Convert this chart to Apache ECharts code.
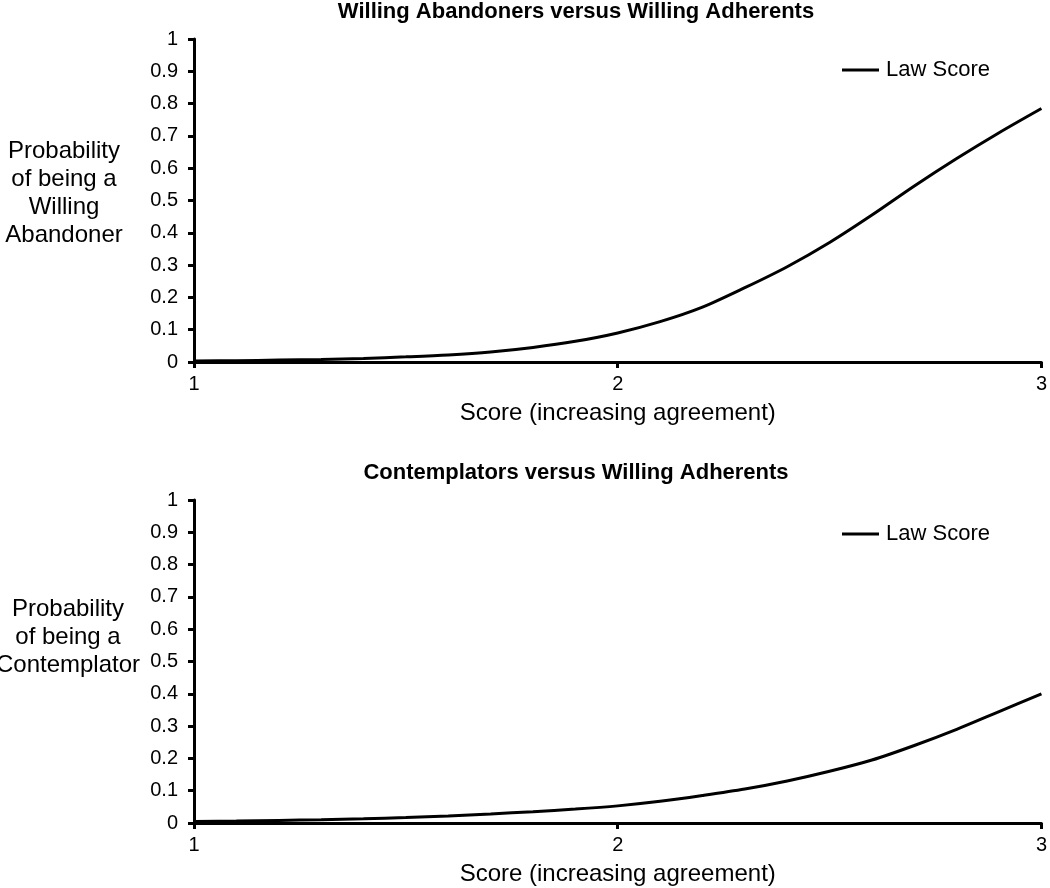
<!DOCTYPE html>
<html>
<head>
<meta charset="utf-8">
<script src="https://cdn.jsdelivr.net/npm/echarts@6/dist/echarts.min.js"></script>
<style>
html,body{margin:0;padding:0;background:#fff;}
#chart{width:1050px;height:888px;}
</style>
</head>
<body>
<div id="chart"></div>
<script>
// Data
const scores = [1.0,1.1,1.2,1.3,1.4,1.5,1.6,1.7,1.8,1.9,2.0,2.1,2.2,2.3,2.4,2.5,2.6,2.7,2.8,2.9,3.0];
const abandonerProb = [0.003,0.004,0.006,0.008,0.011,0.016,0.022,0.031,0.045,0.064,0.09,0.125,0.17,0.23,0.295,0.37,0.455,0.545,0.63,0.71,0.785];
const contemplatorProb = [0.005,0.006,0.008,0.010,0.013,0.017,0.022,0.028,0.035,0.043,0.053,0.067,0.085,0.105,0.13,0.16,0.195,0.24,0.29,0.345,0.40];
const titles = ['Willing Abandoners versus Willing Adherents','Contemplators versus Willing Adherents'];
const yNames = ['Probability\nof being a\nWilling\nAbandoner','Probability\nof being a\nContemplator'];
const xName = 'Score (increasing agreement)';
const seriesName = 'Law Score';

const FONT = '"Liberation Sans", Arial, sans-serif';
const chart = echarts.init(document.getElementById('chart'), null, {renderer:'canvas'});

const gridTops = [39, 500];
const toPairs = (ys) => scores.map((x,i)=>[x, ys[i]]);
const datasets = [abandonerProb, contemplatorProb];

const axisLine = {show:true, lineStyle:{color:'#000', width:3}};
const axisTick = {show:true, length:6, lineStyle:{color:'#000', width:3}};

const option = {
  backgroundColor:'#fff',
  animation:false,
  title: titles.map((t,i)=>({
    text:t, left:571, textAlign:'center', top: i===0 ? -4 : 457,
    textStyle:{fontFamily:FONT, fontWeight:'bold', fontSize:22, color:'#000'}
  })),
  legend: [0,1].map(i=>({
    data:[{name:seriesName, icon:'path://M0,0L40,0L40,3L0,3Z'}],
    left:842, top: gridTops[i] + (i===0?28:31) - 8, padding:0,
    itemWidth:37, itemHeight:3, itemGap:0,
    textStyle:{fontFamily:FONT, fontSize:22, color:'#000', padding:[0,0,0,2]},
    selectedMode:false
  })),
  grid: gridTops.map(t=>({left:194, top:t, width:852, height:323})),
  xAxis: [0,1].map(i=>({
    type:'value', gridIndex:i, min:1, max:3, interval:1,
    axisLine, axisTick, splitLine:{show:false},
    axisLabel:{fontFamily:FONT, fontSize:20, color:'#000', margin:12},
    name:xName, nameLocation:'middle', nameGap:39,
    nameTextStyle:{fontFamily:FONT, fontSize:24, color:'#000'}
  })),
  yAxis: [0,1].map(i=>({
    type:'value', gridIndex:i, min:0, max:1, interval:0.1,
    axisLine, axisTick, splitLine:{show:false},
    axisLabel:{fontFamily:FONT, fontSize:20, color:'#000', margin:16}
  })),
  graphic: yNames.map((t,i)=>({
    type:'text', x: i===0 ? 64 : 68, y: i===0 ? 193 : 637,
    style:{text:t, align:'center', verticalAlign:'middle', fontFamily:FONT, fontSize:24, lineHeight:28, fill:'#000'}
  })),
  series: datasets.map((d,i)=>({
    name:seriesName, type:'line', xAxisIndex:i, yAxisIndex:i,
    data:toPairs(d), symbol:'none', smooth:0.3,
    lineStyle:{color:'#000', width:3}, itemStyle:{color:'#000'}
  }))
};
chart.setOption(option);
</script>
</body>
</html>
